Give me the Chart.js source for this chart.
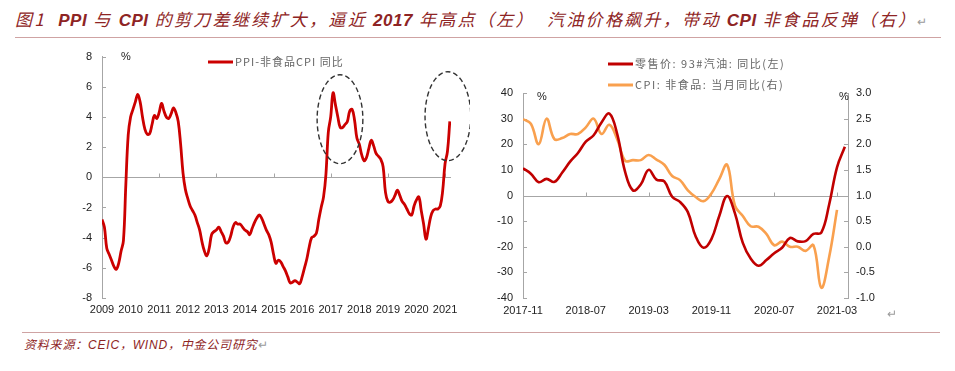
<!DOCTYPE html>
<html>
<head>
<meta charset="utf-8">
<script src="https://cdn.jsdelivr.net/npm/chart.js@4.4.1/dist/chart.umd.min.js"></script>
<style>
  html, body { margin: 0; padding: 0; background: #fff; }
  body { width: 955px; height: 371px; position: relative; overflow: hidden; font-family: "Liberation Sans", "Noto Sans CJK SC", sans-serif; }
  #title { position: absolute; left: 15px; top: 6px; font-size: 17px; letter-spacing: 2.3px; color: #8e2424; font-style: italic; white-space: nowrap; font-family: "Noto Sans CJK SC", sans-serif; }
  #title b { font-family: "Liberation Sans", Arial, sans-serif; letter-spacing: 0.5px; }
  .rule { position: absolute; height: 1px; background: #cfa3a3; }
  #source { position: absolute; left: 24px; top: 335px; font-size: 12px; letter-spacing: 0.8px; color: #8e2424; font-style: italic; white-space: nowrap; font-family: "Noto Sans CJK SC", sans-serif; }
  #source b { font-family: "Liberation Sans", Arial, sans-serif; font-weight: normal; }
  .ret { color: #9a9a9a; font-style: normal; font-size: 12px; letter-spacing: 0; }
  canvas { position: absolute; }
</style>
</head>
<body>
<div id="title">图1 &nbsp;<b>PPI</b> 与 <b>CPI</b> 的剪刀差继续扩大，逼近 <b>2017</b> 年高点（左） &nbsp;汽油价格飙升，带动 <b>CPI</b> 非食品反弹（右）<span class="ret">↵</span></div>
<div class="rule" style="left:15px; top:37px; width:926px;"></div>
<canvas id="left" width="470" height="285" style="left:0; top:40px;"></canvas>
<canvas id="right" width="485" height="285" style="left:470px; top:40px;"></canvas>
<div class="ret" style="position:absolute; left:887px; top:307px;">↵</div>
<div class="rule" style="left:22px; top:332px; width:918px;"></div>
<div id="source">资料来源：<b>CEIC</b>，<b>WIND</b>，中金公司研究<span class="ret">↵</span></div>

<script>
// ---- 左图：PPI - 非食品CPI 同比（月度，2009-01 ~ 2021-03）
const yearLabels = ['2009', '2010', '2011', '2012', '2013', '2014', '2015', '2016', '2017', '2018', '2019', '2020', '2021'];
const ppiGap = [
  -2.8, -3.3, -4.7, -5.1, -5.5, -5.9, -6.1, -5.7, -4.9, -4.2, -0.5, 2.8,   // 2009
  4.0, 4.5, 5.0, 5.5, 5.0, 4.0, 3.2, 2.85, 2.9, 3.5, 4.1, 3.9,            // 2010
  4.3, 4.9, 4.4, 4.0, 3.9, 4.2, 4.6, 4.3, 3.7, 2.2, 0.3, -0.8,            // 2011
  -1.4, -1.9, -2.2, -2.5, -3.0, -3.5, -4.3, -4.9, -5.2, -4.7, -3.8, -3.6, // 2012
  -3.5, -3.3, -3.6, -3.9, -4.35, -4.3, -3.9, -3.3, -3.0, -3.1, -3.1, -3.3,// 2013
  -3.5, -3.6, -3.8, -3.4, -3.0, -2.7, -2.5, -2.7, -3.1, -3.5, -3.8, -4.3, // 2014
  -5.1, -5.7, -5.5, -5.6, -5.9, -6.2, -6.6, -7.0, -6.95, -6.85, -6.95, -7.05, // 2015
  -6.6, -6.0, -5.4, -4.6, -4.0, -3.9, -3.7, -2.8, -2.0, -1.3, 0.2, 3.0,  // 2016
  4.0, 5.6, 4.8, 4.0, 3.3, 3.3, 3.5, 3.7, 4.4, 4.5, 3.8, 2.6,            // 2017
  2.2, 1.5, 1.1, 1.3, 1.9, 2.45, 2.1, 1.6, 1.4, 1.2, 0.7, -1.0,          // 2018
  -1.6, -1.65, -1.5, -1.2, -0.85, -1.2, -1.6, -1.8, -2.1, -2.4, -2.5, -1.9, // 2019
  -1.5, -1.3, -2.2, -3.1, -4.1, -3.4, -2.6, -2.2, -2.1, -2.1, -1.9, -0.9, // 2020
  0.9, 1.7, 3.7                                                          // 2021
];
// 虚线椭圆标注（数据坐标：月序号、百分比）
const leftCircles = [
  { x: 99.9, y: 3.85, rx: 9.6, ry: 2.95 },
  { x: 145.2, y: 4.05, rx: 9.6, ry: 2.95 }
];

// ---- 右图：零售价 93#汽油 同比（左轴）与 CPI 非食品当月同比（右轴），2017-11 起
const monthLabels = ['2017-11', '2018-07', '2019-03', '2019-11', '2020-07', '2021-03'];
const gasolineYoY = [
  10.6, 8.5, 5.2, 6.5, 5.3, 9.0, 13.2, 16.6, 21.0, 23.5, 28.5, 32.0,
  24.0, 9.3, 2.0, 4.3, 10.0, 6.2, 5.5, -0.5, -2.5, -6.5, -16.0, -20.4,
  -17.0, -8.0, -0.2, -7.0, -18.5, -24.6, -27.4, -25.2, -22.5, -20.4, -16.6, -17.9,
  -17.8, -15.0, -14.5, -3.5, 11.0, 19.0
];
const cpiNonFoodYoY = [
  2.49, 2.4, 2.0, 2.5, 2.1, 2.12, 2.2, 2.2, 2.33, 2.5, 2.2, 2.38,
  2.1, 1.68, 1.69, 1.69, 1.79, 1.7, 1.6, 1.38, 1.3, 1.1, 0.97, 0.89,
  1.04, 1.32, 1.6, 0.8, 0.6, 0.4, 0.39, 0.25, 0.03, 0.1, 0.0, 0.0,
  -0.08, 0.03, -0.8, -0.2, 0.72
];

const axisGray = '#a6a6a6';
const labelFont = { family: '"Liberation Sans", Arial, sans-serif', size: 11 };
const legendFont = '11px "Noto Sans CJK SC", sans-serif';

// 坐标轴细节、图例、%、椭圆
const decor = {
  id: 'decor',
  beforeDatasetsDraw(chart, args, opts) {
    const ctx = chart.ctx, a = chart.chartArea;
    const y0 = Math.round(chart.scales.y.getPixelForValue(0)) + 0.5;
    ctx.save();
    ctx.strokeStyle = axisGray;
    ctx.lineWidth = 1;
    ctx.beginPath();
    ctx.moveTo(a.left, y0);
    ctx.lineTo(a.right, y0);
    ctx.stroke();
    // x 轴刻度（在零线上向上）
    opts.xMarks.forEach(v => {
      const px = Math.round(chart.scales.x.getPixelForValue(v)) + 0.5;
      ctx.beginPath();
      ctx.moveTo(px, y0);
      ctx.lineTo(px, y0 - 4);
      ctx.stroke();
    });
    // 纵轴向内刻度
    opts.valueAxes.forEach(([id, dir]) => {
      const s = chart.scales[id];
      const x0 = dir > 0 ? a.left : a.right;
      s.ticks.forEach(t => {
        const py = Math.round(s.getPixelForValue(t.value)) + 0.5;
        ctx.beginPath();
        ctx.moveTo(x0, py);
        ctx.lineTo(x0 + dir * 4, py);
        ctx.stroke();
      });
    });
    ctx.restore();
  },
  afterDraw(chart, args, opts) {
    const ctx = chart.ctx;
    ctx.save();
    // 椭圆
    (opts.circles || []).forEach(c => {
      const xs = chart.scales.x, ys = chart.scales.y;
      const cx = xs.getPixelForValue(c.x), cy = ys.getPixelForValue(c.y);
      const rx = Math.abs(xs.getPixelForValue(c.x + c.rx) - cx);
      const ry = Math.abs(ys.getPixelForValue(c.y + c.ry) - cy);
      ctx.strokeStyle = '#333';
      ctx.lineWidth = 1.4;
      ctx.setLineDash([5, 3]);
      ctx.beginPath();
      ctx.ellipse(cx, cy, rx, ry, 0, 0, Math.PI * 2);
      ctx.stroke();
    });
    ctx.setLineDash([]);
    // %
    ctx.fillStyle = '#222';
    ctx.font = '11px "Liberation Sans", Arial, sans-serif';
    ctx.textAlign = 'center';
    ctx.textBaseline = 'middle';
    opts.percent.forEach(p => ctx.fillText('%', p[0], p[1]));
    // 图例
    ctx.textAlign = 'left';
    ctx.font = legendFont;
    ctx.letterSpacing = opts.legend.spacing;
    chart.data.datasets.forEach((ds, i) => {
      const y = opts.legend.y + i * opts.legend.gap;
      ctx.strokeStyle = ds.borderColor;
      ctx.lineWidth = 3;
      ctx.beginPath();
      ctx.moveTo(opts.legend.x, y);
      ctx.lineTo(opts.legend.x + 25, y);
      ctx.stroke();
      ctx.fillStyle = '#666';
      ctx.fillText(ds.label, opts.legend.x + 27, y);
    });
    ctx.restore();
  }
};

const yearTicks = yearLabels.map((_, i) => i * 12);

new Chart(document.getElementById('left'), {
  type: 'line',
  data: {
    datasets: [{
      label: 'PPI-非食品CPI 同比',
      data: ppiGap.map((v, i) => ({ x: i, y: v })),
      borderColor: '#cc0000',
      borderWidth: 2.8,
      pointRadius: 0,
      tension: 0.4
    }]
  },
  options: {
    responsive: false,
    animation: false,
    layout: { padding: { left: 0, right: 19, top: 14, bottom: 0 } },
    plugins: {
      legend: { display: false },
      tooltip: { enabled: false },
      decor: {
        xMarks: yearTicks.filter((v, i) => i % 2 === 0 && i > 0),
        valueAxes: [['y', 1]],
        circles: leftCircles,
        percent: [[126, 17]],
        legend: { x: 208, y: 22, gap: 0, spacing: '1px' }
      }
    },
    scales: {
      x: {
        type: 'linear', min: 0, max: 146.5,
        afterBuildTicks: s => { s.ticks = yearTicks.map(v => ({ value: v })); },
        afterFit: s => { s.height = 27; },
        grid: { display: false, drawTicks: false },
        border: { display: false },
        ticks: { padding: 5, color: '#222', font: labelFont, maxRotation: 0, autoSkip: false,
                 callback: (v) => yearLabels[v / 12] }
      },
      y: {
        min: -8, max: 8,
        afterFit: s => { s.width = 102; },
        grid: { display: false, drawTicks: false },
        border: { display: true, color: axisGray, width: 1 },
        ticks: { stepSize: 2, padding: 10, color: '#222', font: labelFont }
      }
    }
  },
  plugins: [decor]
});

const monthTicks = monthLabels.map((_, i) => i * 8);

new Chart(document.getElementById('right'), {
  type: 'line',
  data: {
    datasets: [{
      label: '零售价: 93#汽油: 同比(左)',
      data: gasolineYoY.map((v, i) => ({ x: i, y: v })),
      borderColor: '#c00000',
      borderWidth: 2.6,
      pointRadius: 0,
      tension: 0.4,
      yAxisID: 'y'
    }, {
      label: 'CPI: 非食品: 当月同比(右)',
      data: cpiNonFoodYoY.map((v, i) => ({ x: i, y: v })),
      borderColor: '#f9a04e',
      borderWidth: 2.6,
      pointRadius: 0,
      tension: 0.4,
      yAxisID: 'y1'
    }]
  },
  options: {
    responsive: false,
    animation: false,
    layout: { padding: { left: 0, right: 60, top: 53, bottom: 0 } },
    plugins: {
      legend: { display: false },
      tooltip: { enabled: false },
      decor: {
        xMarks: monthTicks.slice(1),
        valueAxes: [['y', 1], ['y1', -1]],
        percent: [[72, 57], [374, 57]],
        legend: { x: 138, y: 24, gap: 21, spacing: '1.5px' }
      }
    },
    scales: {
      x: {
        type: 'linear', min: 0, max: 41.4,
        afterBuildTicks: s => { s.ticks = monthTicks.map(v => ({ value: v })); },
        afterFit: s => { s.height = 27; },
        grid: { display: false, drawTicks: false },
        border: { display: false },
        ticks: { padding: 6, color: '#222', font: labelFont, maxRotation: 0, autoSkip: false,
                 callback: (v) => monthLabels[v / 8] }
      },
      y: {
        position: 'left',
        min: -40, max: 40,
        afterFit: s => { s.width = 53; },
        grid: { display: false, drawTicks: false },
        border: { display: true, color: axisGray, width: 1 },
        ticks: { stepSize: 10, padding: 10, color: '#222', font: labelFont }
      },
      y1: {
        position: 'right',
        min: -1, max: 3,
        afterFit: s => { s.width = 47; },
        grid: { display: false, drawTicks: false },
        border: { display: true, color: axisGray, width: 1 },
        ticks: { stepSize: 0.5, padding: 8, color: '#222', font: labelFont,
                 callback: v => v.toFixed(1) }
      }
    }
  },
  plugins: [decor]
});
</script>
</body>
</html>
